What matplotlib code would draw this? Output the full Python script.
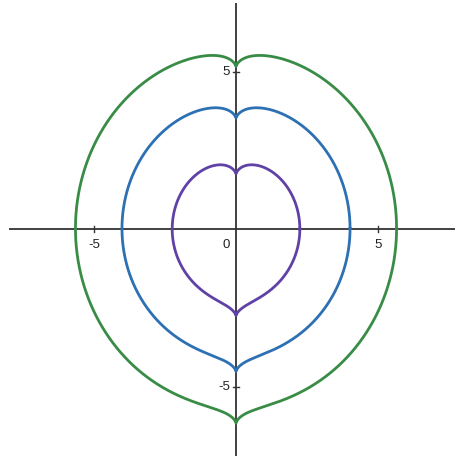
import numpy as np
import matplotlib
matplotlib.use('Agg')
import matplotlib.pyplot as plt

# ── Curve family: x² + (y - c - g(x))² = R²,  g(x) = A·(1 - exp(-(|x|/s)^q)) ──
radii   = [2.25, 4.02, 5.66]
colors  = ['#6042a6', '#2d70b3', '#388c46']
y_shift = -0.5
bump_A  = 0.52
bump_s  = 0.45
bump_q  = 0.74

x_ticks = [-5, 5]
y_ticks = [5, -5]

# view window (data units)
x_lim = (-8.32, 7.755)
y_lim = (-7.365, 7.27)

plt.rcParams['font.family'] = ['Liberation Sans', 'DejaVu Sans']

fig = plt.figure(figsize=(4.56, 4.61), dpi=100)
ax = fig.add_axes([0, 0, 1, 1])
ax.set_xlim(*x_lim)
ax.set_ylim(*y_lim)
ax.axis('off')

# axes through the origin
ax.plot([-7.99, x_lim[1]], [0, 0], color='#333333', lw=1.3, zorder=1, solid_capstyle='butt')
ax.plot([0, 0], [-7.22, 7.17], color='#333333', lw=1.3, zorder=1, solid_capstyle='butt')

# tick marks + labels
for xt in x_ticks:
    ax.plot([xt, xt], [-0.1, 0.1], color='#333333', lw=1.0, zorder=1)
    ax.annotate(f'{xt}', (xt, 0), xytext=(0, -7.5), textcoords='offset points',
                ha='center', va='top', fontsize=9.5, color='#222222')
for yt in y_ticks:
    ax.plot([-0.1, 0.1], [yt, yt], color='#333333', lw=1.0, zorder=1)
    ax.annotate(f'{yt}', (0, yt), xytext=(-4.5, 0), textcoords='offset points',
                ha='right', va='center', fontsize=9.5, color='#222222')
ax.annotate('0', (0, 0), xytext=(-7, -7.5), textcoords='offset points',
            ha='center', va='top', fontsize=9.5, color='#222222')

# closed curves
t = np.linspace(0, 2 * np.pi, 4001)
for R, col in zip(radii, colors):
    xs = R * np.cos(t)
    g = bump_A * (1 - np.exp(-(np.abs(xs) / bump_s) ** bump_q))
    ys = y_shift + g + R * np.sin(t)
    ax.plot(xs, ys, color=col, lw=2.0, zorder=3, solid_joinstyle='round')

fig.savefig('out.png', dpi=100)
